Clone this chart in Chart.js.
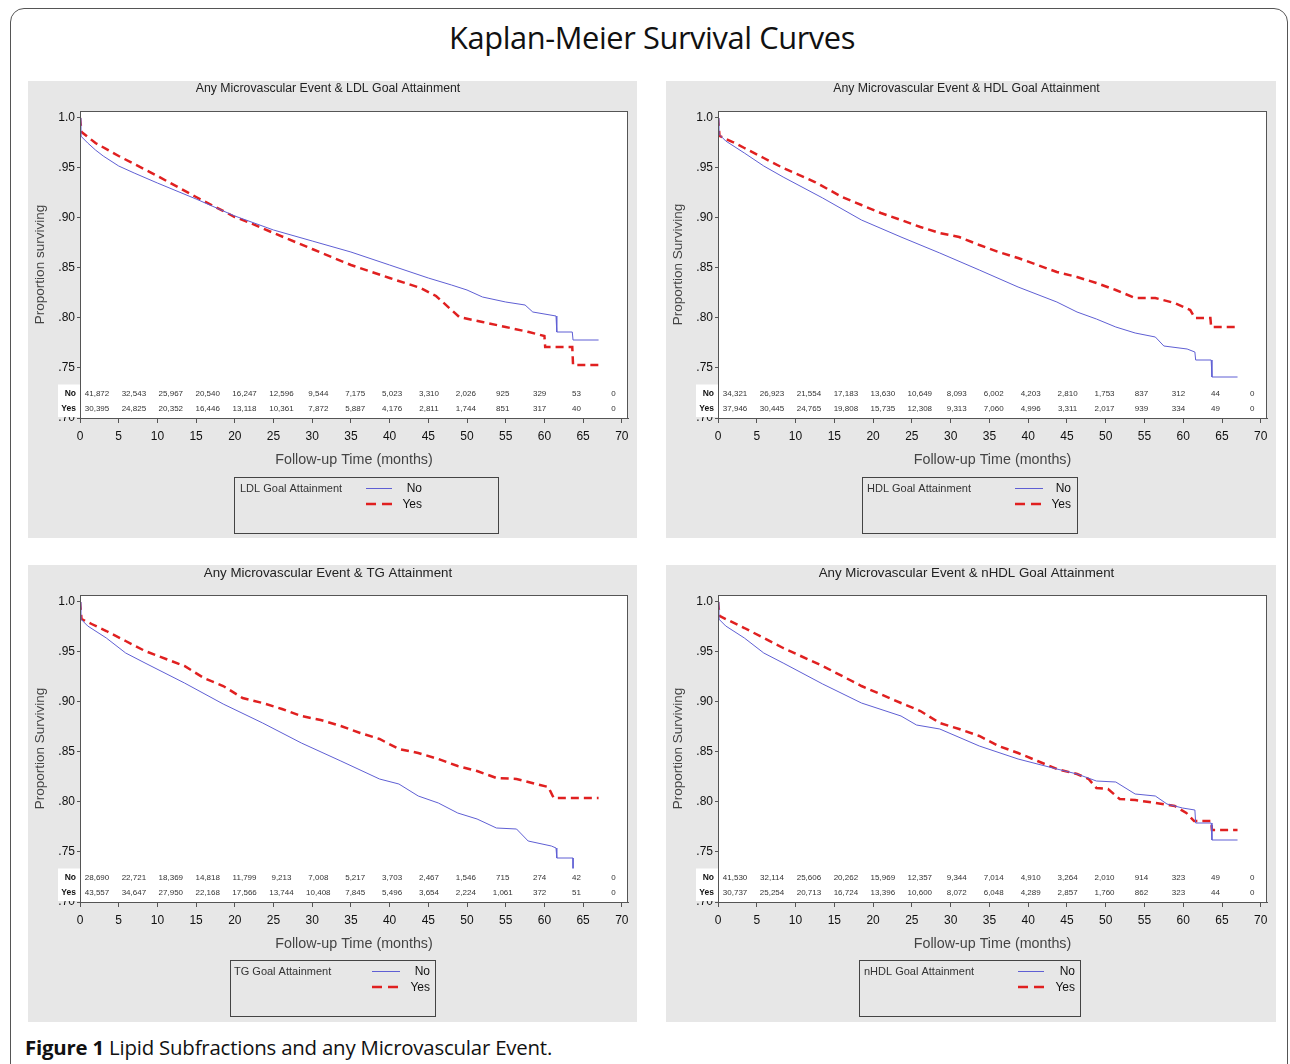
<!DOCTYPE html>
<html lang="en">
<head>
<meta charset="UTF-8">
<title>Kaplan-Meier Survival Curves</title>
<script src="https://cdn.jsdelivr.net/npm/chart.js"></script>
<style>
    body { margin: 0; width: 1290px; height: 1064px; overflow: hidden; position: relative; background: #fff; font-family: "Liberation Sans", Arial, sans-serif; }
    .frame { position: absolute; left: 10px; top: 8px; width: 1276px; height: 1090px; border: 1.5px solid #555; border-radius: 14px; }
    .title { position: absolute; left: 0; top: 16px; width: 1304px; text-align: center; font-family: "Open Sans", sans-serif; font-size: 30.8px; color: #111; letter-spacing: -0.4px; }
    .panel { position: absolute; height: 457px; background: #e7e7e7; }
    .caption { position: absolute; left: 25px; top: 1033px; font-family: "Open Sans", sans-serif; font-size: 20.4px; color: #111; letter-spacing: -0.2px; }
    .caption b { font-weight: 700; }
</style>
</head>
<body>
<div class="frame"></div>
<div class="title">Kaplan-Meier Survival Curves</div>
<div class="panel" style="left:28px;top:81px;width:609px"><canvas id="c1" width="609" height="457"></canvas></div>
<div class="panel" style="left:666px;top:81px;width:610px"><canvas id="c2" width="610" height="457"></canvas></div>
<div class="panel" style="left:28px;top:565px;width:609px"><canvas id="c3" width="609" height="457"></canvas></div>
<div class="panel" style="left:666px;top:565px;width:610px"><canvas id="c4" width="610" height="457"></canvas></div>
<div class="caption"><b>Figure 1</b> Lipid Subfractions and any Microvascular Event.</div>
<script>
// axis ticks
const xTicks = [0, 5, 10, 15, 20, 25, 30, 35, 40, 45, 50, 55, 60, 65, 70];
const yTicks = [0.70, 0.75, 0.80, 0.85, 0.90, 0.95, 1.0];
const riskTimes = [0, 5, 10, 15, 20, 25, 30, 35, 40, 45, 50, 55, 60, 65, 70];

// LDL goal attainment (months, proportion surviving)
const ldlNoT = [0, 0.1, 1, 2, 3, 5, 7, 10, 15, 20, 25, 30, 35, 40, 45, 48, 50, 52, 55, 57.5, 58.5, 61.5, 61.6, 63.6, 63.7, 67];
const ldlNoS = [1.0, 0.982, 0.975, 0.968, 0.962, 0.952, 0.945, 0.935, 0.919, 0.902, 0.888, 0.877, 0.866, 0.853, 0.840, 0.833, 0.828, 0.821, 0.816, 0.813, 0.806, 0.802, 0.786, 0.786, 0.778, 0.778];
const ldlYesT = [0, 0.2, 2, 5, 10, 15, 20, 22, 25, 30, 35, 40, 44, 46, 48, 49, 52, 55, 58, 60, 60.1, 63.6, 63.7, 67];
const ldlYesS = [1.0, 0.986, 0.975, 0.962, 0.942, 0.921, 0.901, 0.895, 0.885, 0.869, 0.853, 0.840, 0.830, 0.822, 0.808, 0.801, 0.796, 0.791, 0.786, 0.782, 0.771, 0.771, 0.753, 0.753];
const ldlRiskNo = [41872, 32543, 25967, 20540, 16247, 12596, 9544, 7175, 5023, 3310, 2026, 925, 329, 53, 0];
const ldlRiskYes = [30395, 24825, 20352, 16446, 13118, 10361, 7872, 5887, 4176, 2811, 1744, 851, 317, 40, 0];

// HDL goal attainment
const hdlNoT = [0, 0.1, 1, 3.4, 5.9, 8.4, 13.5, 18.5, 23.6, 28.6, 33.7, 38.7, 43.7, 46.3, 48.8, 51.3, 53.8, 56.4, 57.5, 60.5, 61.5, 61.6, 63.6, 63.7, 67];
const hdlNoS = [1.0, 0.984, 0.977, 0.965, 0.952, 0.941, 0.920, 0.898, 0.881, 0.865, 0.848, 0.831, 0.816, 0.806, 0.799, 0.791, 0.785, 0.781, 0.772, 0.769, 0.766, 0.758, 0.758, 0.741, 0.741];
const hdlYesT = [0, 0.2, 1.9, 3.4, 5.9, 8.4, 12.5, 16, 18.5, 21, 23.6, 26.1, 28.6, 31.1, 33.7, 36.2, 38.7, 41.2, 43.7, 46.3, 48.8, 51.3, 53.8, 56.4, 58.9, 60.9, 61.5, 63.5, 63.6, 67];
const hdlYesS = [1.0, 0.982, 0.976, 0.970, 0.960, 0.950, 0.936, 0.921, 0.913, 0.905, 0.898, 0.891, 0.885, 0.881, 0.873, 0.866, 0.860, 0.853, 0.846, 0.841, 0.835, 0.828, 0.820, 0.820, 0.815, 0.808, 0.800, 0.800, 0.791, 0.791];
const hdlRiskNo = [34321, 26923, 21554, 17183, 13630, 10649, 8093, 6002, 4203, 2810, 1753, 837, 312, 44, 0];
const hdlRiskYes = [37946, 30445, 24765, 19808, 15735, 12308, 9313, 7060, 4996, 3311, 2017, 939, 334, 49, 0];

// TG attainment
const tgNoT = [0, 0.1, 1, 3.4, 5.9, 8.4, 13.5, 18.5, 23.6, 28.6, 33.7, 38.7, 41.2, 43.7, 46.3, 48.8, 51.3, 53.8, 56.4, 57.9, 60.9, 61.5, 61.6, 63.7, 63.7];
const tgNoS = [1.0, 0.983, 0.976, 0.964, 0.949, 0.939, 0.919, 0.898, 0.879, 0.859, 0.841, 0.823, 0.818, 0.806, 0.799, 0.789, 0.783, 0.774, 0.773, 0.761, 0.756, 0.754, 0.744, 0.744, 0.731];
const tgYesT = [0, 0.2, 1.5, 3.4, 5.9, 8.4, 13.5, 16, 18.5, 21, 23.6, 26.1, 28.6, 31.1, 33.7, 36.2, 38.7, 41.2, 43.7, 46.3, 48.8, 51.3, 53.8, 56.4, 58.9, 60.5, 61.2, 67];
const tgYesS = [1.0, 0.983, 0.978, 0.971, 0.961, 0.951, 0.936, 0.924, 0.916, 0.904, 0.899, 0.893, 0.886, 0.882, 0.876, 0.869, 0.863, 0.853, 0.849, 0.843, 0.836, 0.831, 0.824, 0.823, 0.818, 0.815, 0.804, 0.804];
const tgRiskNo = [28690, 22721, 18369, 14818, 11799, 9213, 7008, 5217, 3703, 2467, 1546, 715, 274, 42, 0];
const tgRiskYes = [43557, 34647, 27950, 22168, 17566, 13744, 10408, 7845, 5496, 3654, 2224, 1061, 372, 51, 0];

// nHDL goal attainment
const nhdlNoT = [0, 0.1, 1, 3.4, 5.9, 8.4, 13.5, 18.5, 23.6, 25.6, 28.6, 33.7, 38.7, 43.7, 46.3, 48.8, 51.3, 53.8, 56.4, 57.9, 59.9, 61.5, 61.6, 63.6, 63.7, 67];
const nhdlNoS = [1.0, 0.983, 0.976, 0.964, 0.949, 0.939, 0.918, 0.899, 0.886, 0.877, 0.873, 0.856, 0.843, 0.833, 0.828, 0.821, 0.820, 0.808, 0.806, 0.798, 0.794, 0.792, 0.779, 0.779, 0.762, 0.762];
const nhdlYesT = [0, 0.2, 3.4, 5.9, 8.4, 13.5, 18.5, 23.6, 26.1, 28.6, 31.1, 33.7, 36.2, 38.7, 41.2, 43.7, 46.3, 47.8, 48.8, 50.3, 51.8, 53.8, 56.4, 58.9, 60.4, 61.4, 63.6, 63.7, 67];
const nhdlYesS = [1.0, 0.986, 0.974, 0.964, 0.954, 0.936, 0.916, 0.899, 0.891, 0.879, 0.873, 0.866, 0.856, 0.849, 0.841, 0.833, 0.828, 0.823, 0.814, 0.813, 0.803, 0.802, 0.799, 0.796, 0.789, 0.781, 0.781, 0.772, 0.772];
const nhdlRiskNo = [41530, 32114, 25606, 20262, 15969, 12357, 9344, 7014, 4910, 3264, 2010, 914, 323, 49, 0];
const nhdlRiskYes = [30737, 25254, 20713, 16724, 13396, 10600, 8072, 6048, 4289, 2857, 1760, 862, 323, 44, 0];

const BLUE = '#5f5fd4';
const RED = '#e02020';
const FONT = '"Liberation Sans", Arial, sans-serif';

function pts(t, s) {
    return t.map((v, i) => ({ x: v, y: s[i] }));
}

// white plot area, at-risk table, frame and legend box
const kmDecor = {
    id: 'kmDecor',
    beforeDatasetsDraw(chart) {
        const { ctx, chartArea: a } = chart;
        ctx.save();
        ctx.fillStyle = '#fff';
        ctx.fillRect(a.left + 1, a.top, a.right - a.left - 1, a.bottom - a.top);
        ctx.restore();
    },
    afterDatasetsDraw(chart, args, p) {
        const { ctx, chartArea: a, scales: { x, y } } = chart;
        ctx.save();
        // numbers at risk
        const top = y.getPixelForValue(0.7335);
        ctx.fillStyle = '#fff';
        ctx.fillRect(a.left - 22, top, a.right - a.left + 22, a.bottom - top - 1);
        const rowNo = y.getPixelForValue(0.7245);
        const rowYes = y.getPixelForValue(0.709);
        ctx.fillStyle = '#111';
        ctx.textBaseline = 'middle';
        ctx.textAlign = 'right';
        ctx.font = 'bold 8.5px ' + FONT;
        ctx.fillText('No', a.left - 4, rowNo);
        ctx.fillText('Yes', a.left - 4, rowYes);
        ctx.textAlign = 'center';
        ctx.font = '8px ' + FONT;
        ctx.fillStyle = '#333';
        riskTimes.forEach((t, i) => {
            const px = x.getPixelForValue(2.2 + t * 0.953);
            ctx.fillText(p.riskNo[i].toLocaleString('en-US'), px, rowNo);
            ctx.fillText(p.riskYes[i].toLocaleString('en-US'), px, rowYes);
        });
        // plot frame
        ctx.strokeStyle = '#555';
        ctx.lineWidth = 1;
        ctx.strokeRect(a.left + 0.5, a.top + 0.5, a.right - a.left - 1, a.bottom - a.top);

        // legend
        const b = p.box;
        ctx.strokeStyle = '#444';
        ctx.strokeRect(b.x + 0.5, b.y + 0.5, b.w, b.h);
        ctx.fillStyle = '#333';
        ctx.textAlign = 'left';
        ctx.font = '11px ' + FONT;
        ctx.fillText(p.legend, b.textX, b.y + 12);
        ctx.textAlign = 'right';
        ctx.font = '12px ' + FONT;
        ctx.fillStyle = '#111';
        ctx.fillText('No', b.right, b.y + 12);
        ctx.fillText('Yes', b.right, b.y + 28);
        ctx.beginPath();
        ctx.strokeStyle = BLUE;
        ctx.lineWidth = 1;
        ctx.moveTo(b.l1, b.y + 11.5);
        ctx.lineTo(b.l2, b.y + 11.5);
        ctx.stroke();
        ctx.beginPath();
        ctx.strokeStyle = RED;
        ctx.lineWidth = 2.5;
        ctx.setLineDash([10, 6]);
        ctx.moveTo(b.l1, b.y + 27);
        ctx.lineTo(b.l2, b.y + 27);
        ctx.stroke();
        ctx.restore();
    }
};

const panels = [
    { id: 'c1', title: 'Any Microvascular Event & LDL Goal Attainment', titleSize: 12.3, yTitle: 'Proportion surviving', legend: 'LDL Goal Attainment',
      noT: ldlNoT, noS: ldlNoS, yesT: ldlYesT, yesS: ldlYesS, riskNo: ldlRiskNo, riskYes: ldlRiskYes,
      box: { x: 206, y: 396, w: 264, h: 56, textX: 212, l1: 338, l2: 364, right: 394 } },
    { id: 'c2', title: 'Any Microvascular Event & HDL Goal Attainment', titleSize: 12.3, yTitle: 'Proportion Surviving', legend: 'HDL Goal Attainment',
      noT: hdlNoT, noS: hdlNoS, yesT: hdlYesT, yesS: hdlYesS, riskNo: hdlRiskNo, riskYes: hdlRiskYes,
      box: { x: 196, y: 396, w: 215, h: 56, textX: 201, l1: 349, l2: 377, right: 405 } },
    { id: 'c3', title: 'Any Microvascular Event & TG Attainment', titleSize: 13.3, yTitle: 'Proportion Surviving', legend: 'TG Goal Attainment',
      noT: tgNoT, noS: tgNoS, yesT: tgYesT, yesS: tgYesS, riskNo: tgRiskNo, riskYes: tgRiskYes,
      box: { x: 202, y: 395, w: 205, h: 56, textX: 206, l1: 344, l2: 372, right: 402 } },
    { id: 'c4', title: 'Any Microvascular Event & nHDL Goal Attainment', titleSize: 13.3, yTitle: 'Proportion Surviving', legend: 'nHDL Goal Attainment',
      noT: nhdlNoT, noS: nhdlNoS, yesT: nhdlYesT, yesS: nhdlYesS, riskNo: nhdlRiskNo, riskYes: nhdlRiskYes,
      box: { x: 193, y: 395, w: 221, h: 56, textX: 198, l1: 352, l2: 378, right: 409 } }
];

panels.forEach(p => {
    const titleLine = p.titleSize * 1.2;
    new Chart(document.getElementById(p.id), {
        type: 'line',
        data: {
            datasets: [
                { label: 'No', data: pts(p.noT, p.noS), borderColor: BLUE, borderWidth: 1, pointRadius: 0, tension: 0 },
                { label: 'Yes', data: pts(p.yesT, p.yesS), borderColor: RED, borderWidth: 2.5, borderDash: [8, 5], pointRadius: 0, tension: 0 }
            ]
        },
        options: {
            responsive: false,
            animation: false,
            events: [],
            layout: { padding: { top: 0, left: 0, right: 9, bottom: 0 } },
            plugins: {
                legend: { display: false },
                tooltip: { enabled: false },
                title: { display: true, text: p.title, color: '#222', font: { family: FONT, size: p.titleSize, weight: 'normal' }, padding: { top: 0, bottom: 30 - titleLine } },
                kmDecor: { riskNo: p.riskNo, riskYes: p.riskYes, legend: p.legend, box: p.box }
            },
            scales: {
                x: {
                    type: 'linear', min: 0, max: 70.8,
                    afterBuildTicks: s => { s.ticks = xTicks.map(v => ({ value: v })); },
                    afterFit: s => { s.height = 120; },
                    ticks: { color: '#111', font: { family: FONT, size: 12 }, padding: 6, maxRotation: 0, autoSkip: false },
                    grid: { drawOnChartArea: false, tickLength: 5, color: '#555' },
                    border: { color: '#555' },
                    title: { display: true, text: 'Follow-up Time (months)', color: '#444', font: { family: FONT, size: 14.3 }, padding: { top: 0, bottom: 69.5 } }
                },
                y: {
                    type: 'linear', min: 0.70, max: 1.007,
                    afterBuildTicks: s => { s.ticks = yTicks.map(v => ({ value: v })); },
                    afterFit: s => { s.width = 52; },
                    ticks: { color: '#111', font: { family: FONT, size: 12 }, padding: 2, callback: v => v > 0.999 ? '1.0' : '.' + Math.round(v * 100) },
                    grid: { drawOnChartArea: false, tickLength: 3, color: '#555' },
                    border: { color: '#555' },
                    title: { display: true, text: p.yTitle, color: '#444', font: { family: FONT, size: 13.5 }, padding: { top: 4, bottom: 0 } }
                }
            }
        },
        plugins: [kmDecor]
    });
});
</script>
</body>
</html>
